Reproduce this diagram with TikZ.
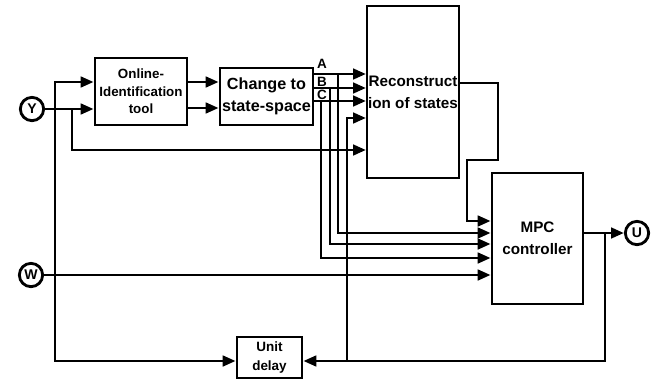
\documentclass[tikz,border=0pt]{standalone}
\usepackage{fontspec}
\setmainfont{Liberation Sans}
\usetikzlibrary{arrows.meta}

\begin{document}
\begin{tikzpicture}[x=0.03cm, y=-0.03cm, line width=2.4pt,
	every node/.style={font=\bfseries},
	blk/.style={draw, rectangle, inner sep=0pt, align=center},
	sig/.style={draw, circle, inner sep=0pt, minimum size=0.7cm, font=\fontsize{12}{13}\selectfont\bfseries},
	flow/.style={-{Triangle[length=11pt,width=9pt]}}]
	\useasboundingbox (0,0) rectangle (662,378);
	\node[sig] (Y) at (32,109) {Y};
	\node[sig] (W) at (31,275) {W};
	\node[sig] (U) at (637,233) {U};
	\node[blk, minimum width=2.76cm, minimum height=2.01cm, font=\fontsize{11.4}{14.8}\selectfont\bfseries] (ident) at (141,91.5) {Online-\\Identification\\tool};
	\node[blk, minimum width=2.79cm, minimum height=1.71cm, font=\fontsize{13.8}{18.5}\selectfont\bfseries] (change) at (266.5,96.5) {Change to\\state-space};
	\node[blk, line width=1.8pt, minimum width=2.76cm, minimum height=5.16cm, font=\fontsize{13}{18.5}\selectfont\bfseries] (recon) at (413,92) {Reconstruct\\ion of states};
	\node[blk, minimum width=2.73cm, minimum height=3.93cm, font=\fontsize{13}{18.5}\selectfont\bfseries] (mpc) at (537.5,238.5) {MPC\\controller};
	\node[blk, minimum width=1.95cm, minimum height=1.23cm, font=\fontsize{11.5}{16}\selectfont\bfseries] (delay) at (269.5,357.5) {Unit\\delay};
	\node[font=\fontsize{11.5}{12}\selectfont\bfseries] (labA) at (322,64) {A};
	\node[font=\fontsize{11.5}{12}\selectfont\bfseries] (labB) at (322,82) {B};
	\node[font=\fontsize{11.5}{12}\selectfont\bfseries] (labC) at (322,95) {C};
	\coordinate (yb1) at (55,109);
	\coordinate (yb2) at (72,109);
	\coordinate (ub) at (605,233);
	\coordinate (fb) at (347,361);
	\draw[flow] (Y) -- (ident.west |- Y);
	\draw[flow] (yb1) |- (ident.west |- 0,82);
	\draw[flow] (yb1) |- (delay.west |- 0,361);
	\draw[flow] (yb2) |- (recon.west |- 0,150);
	\draw[flow] (ident.east |- 0,82) -- (change.west |- 0,82);
	\draw[flow] (ident.east |- 0,108) -- (change.west |- 0,108);
	\draw[flow] (change.east |- 0,74) -- (recon.west |- 0,74);
	\draw[flow] (change.east |- 0,88) -- (recon.west |- 0,88);
	\draw[flow] (change.east |- 0,101) -- (recon.west |- 0,101);
	\draw[flow] (338,74) |- (mpc.west |- 0,233);
	\draw[flow] (330,88) |- (mpc.west |- 0,244);
	\draw[flow] (321,101) |- (mpc.west |- 0,258);
	\draw[flow] (recon.east |- 0,83) -| (498,160) -| (467,221) -- (mpc.west |- 0,221);
	\draw[flow] (W) -- (mpc.west |- W);
	\draw[flow] (mpc.east |- U) -- (U);
	\draw[flow] (ub) |- (delay.east |- 0,361);
	\draw[flow] (fb) |- (recon.west |- 0,118);
\end{tikzpicture}
\end{document}
